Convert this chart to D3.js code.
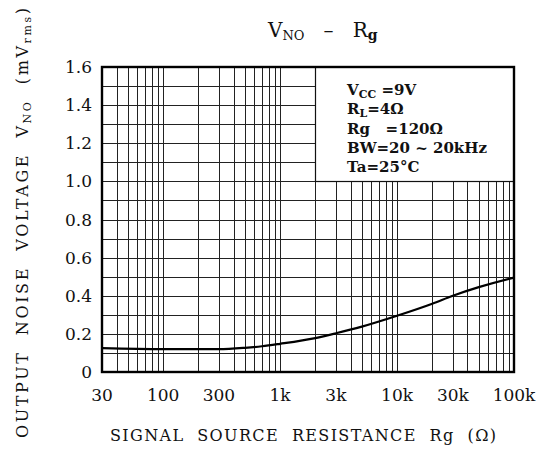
<!DOCTYPE html>
<html>
<head>
<meta charset="utf-8">
<script src="https://cdn.jsdelivr.net/npm/d3@7"></script>
<style>
body { margin: 0; background: #fff; }
text { font-family: "DejaVu Serif", serif; fill: #111; }
</style>
</head>
<body>
<div id="chart"></div>
<script>
// curve
var rg  = [30, 100, 300, 500, 700, 1000, 2000, 3000, 5000, 10000, 20000, 30000, 50000, 100000];
var vno = [0.125, 0.12, 0.12, 0.127, 0.135, 0.148, 0.178, 0.203, 0.238, 0.295, 0.358, 0.40, 0.445, 0.495];

var xTicks = [30, 100, 300, 1000, 3000, 10000, 30000, 100000];
var xTickLabels = ["30", "100", "300", "1k", "3k", "10k", "30k", "100k"];
var yTicks = [0, 0.2, 0.4, 0.6, 0.8, 1.0, 1.2, 1.4, 1.6];
var yTickLabels = ["0", "0.2", "0.4", "0.6", "0.8", "1.0", "1.2", "1.4", "1.6"];

var conditions = ["V_{CC} =9V", "R_{L}=4\u03a9", "Rg   =120\u03a9", "BW=20 ~ 20kHz", "Ta=25\u00b0C"];

var width = 558, height = 452;

var svg = d3.select("#chart")
    .append("svg")
    .attr("width", width)
    .attr("height", height);

var x = d3.scaleLog().domain([30, 100000]).range([102, 514]);
var y = d3.scaleLinear().domain([0, 1.6]).range([372, 67]);

// grid
var grid = svg.append("g").attr("class", "grid")
    .attr("stroke", "#222")
    .attr("stroke-width", 1);

grid.selectAll("line.v")
    .data(x.ticks())
    .enter().append("line")
    .attr("class", "v")
    .attr("x1", function(d) { return Math.round(x(d)) + 0.5; })
    .attr("x2", function(d) { return Math.round(x(d)) + 0.5; })
    .attr("y1", y(0))
    .attr("y2", y(1.6));

grid.selectAll("line.h")
    .data(d3.range(1, 16).map(function(i) { return i / 10; }))
    .enter().append("line")
    .attr("class", "h")
    .attr("x1", x(30))
    .attr("x2", x(100000))
    .attr("y1", function(d) { return Math.round(y(d)) + 0.5; })
    .attr("y2", function(d) { return Math.round(y(d)) + 0.5; });

// conditions box (blanks the grid behind it)
svg.append("rect")
    .attr("x", Math.round(x(2000)) + 0.5)
    .attr("y", y(1.6))
    .attr("width", x(100000) - Math.round(x(2000)) - 0.5)
    .attr("height", Math.round(y(1.0)) + 0.5 - y(1.6))
    .attr("fill", "#fff")
    .attr("stroke", "#111")
    .attr("stroke-width", 1.2);

var cond = svg.append("g").attr("transform", "translate(347,95)");
conditions.forEach(function(line, i) {
    var t = cond.append("text")
        .attr("x", 0)
        .attr("y", i * 19.3)
        .attr("font-size", "15px")
        .attr("font-weight", "bold")
        .attr("xml:space", "preserve")
        .style("white-space", "pre");
    var parts = line.split(/_\{([^}]*)\}/);
    parts.forEach(function(p, j) {
        if (!p) return;
        if (j % 2 === 1) {
            t.append("tspan").attr("font-size", "11px").attr("dy", 3).text(p);
        } else {
            t.append("tspan").attr("dy", j > 0 ? -3 : 0).text(p);
        }
    });
});

// curve
var line = d3.line()
    .x(function(d) { return x(d[0]); })
    .y(function(d) { return y(d[1]); })
    .curve(d3.curveMonotoneX);

svg.append("path")
    .datum(d3.zip(rg, vno))
    .attr("fill", "none")
    .attr("stroke", "#000")
    .attr("stroke-width", 2.2)
    .attr("d", line);

// frame
svg.append("rect")
    .attr("x", x(30))
    .attr("y", y(1.6))
    .attr("width", x(100000) - x(30))
    .attr("height", y(0) - y(1.6))
    .attr("fill", "none")
    .attr("stroke", "#000")
    .attr("stroke-width", 2.4);

// tick labels
svg.append("g").selectAll("text")
    .data(xTicks)
    .enter().append("text")
    .attr("x", function(d) { return x(d); })
    .attr("y", 401)
    .attr("text-anchor", "middle")
    .attr("font-size", "17px")
    .text(function(d, i) { return xTickLabels[i]; });

svg.append("g").selectAll("text")
    .data(yTicks)
    .enter().append("text")
    .attr("x", 92)
    .attr("y", function(d) { return y(d); })
    .attr("dy", "0.36em")
    .attr("text-anchor", "end")
    .attr("font-size", "17px")
    .text(function(d, i) { return yTickLabels[i]; });

// title
var title = svg.append("text")
    .attr("x", 268)
    .attr("y", 37)
    .attr("font-size", "20px")
    .attr("xml:space", "preserve")
    .style("white-space", "pre");
title.append("tspan").text("V");
title.append("tspan").attr("font-size", "13px").attr("dy", 3).text("NO");
title.append("tspan").attr("dy", -3).text("   \u2013   R");
title.append("tspan").attr("font-size", "14px").attr("font-weight", "bold").attr("dy", 3).text("g");

// axis titles
var xt = svg.append("text")
    .attr("x", 110)
    .attr("y", 441)
    .attr("font-size", "16px")
    .attr("textLength", 386)
    .attr("lengthAdjust", "spacing")
    .attr("xml:space", "preserve")
    .style("white-space", "pre");
xt.append("tspan").text("SIGNAL  SOURCE  RESISTANCE  Rg  (\u03a9)");

var yt = svg.append("text")
    .attr("transform", "translate(28,438) rotate(-90)")
    .attr("font-size", "16px")
    .attr("textLength", 430)
    .attr("lengthAdjust", "spacing")
    .attr("xml:space", "preserve")
    .style("white-space", "pre");
yt.append("tspan").text("OUTPUT  NOISE  VOLTAGE  V");
yt.append("tspan").attr("font-size", "11px").attr("dy", 3).text("NO");
yt.append("tspan").attr("dy", -3).text("  (mV");
yt.append("tspan").attr("font-size", "11px").attr("dy", 3).text("rms");
yt.append("tspan").attr("dy", -3).text(")");
</script>
</body>
</html>
